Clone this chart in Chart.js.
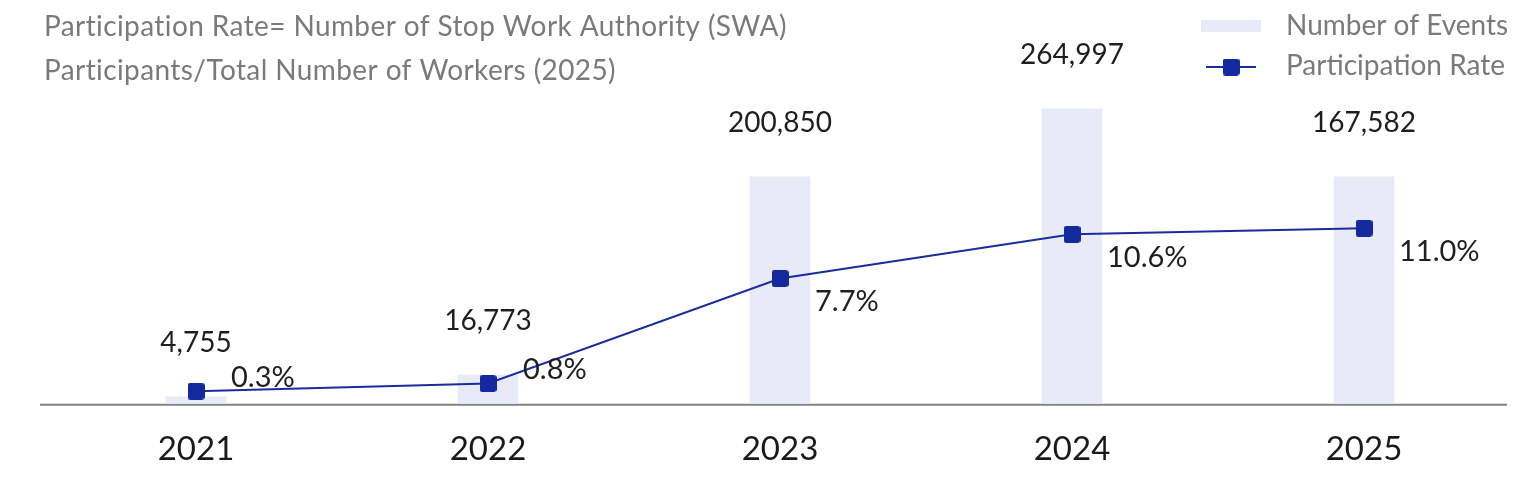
<!DOCTYPE html>
<html>
<head>
<meta charset="utf-8">
<script src="https://cdn.jsdelivr.net/npm/chart.js@4.4.1/dist/chart.umd.min.js"></script>
<style>
  html, body { margin: 0; padding: 0; background: #fff; }
  #wrap { width: 1520px; height: 480px; position: relative; }
</style>
</head>
<body>
<div id="wrap"><canvas id="swaChart" width="1520" height="480"></canvas></div>
<script>
// données du graphique
const years = ['2021', '2022', '2023', '2024', '2025'];
const eventCounts = [4755, 16773, 200850, 264997, 167582];
// hauteurs des barres telles que dessinées dans l'original (pas à l'échelle des nombres affichés)
const eventBarHeights = [6200, 25900, 204000, 265000, 204000];
const participationRates = [0.3, 0.8, 7.7, 10.6, 11.0];
const titleLines = [
    'Participation Rate= Number of Stop Work Authority (SWA)',
    'Participants/Total Number of Workers (2025)'
];
const legendLabels = ['Number of Events', 'Participation Rate'];

const BAR_COLOR = '#e8eaf8';
const LINE_COLOR = '#1b2d9e';
const MARKER_COLOR = '#14299d';
const GREY = '#7a7a7a';
const FONT = 'Lato, "Noto Sans", sans-serif';

// marqueur carré aux coins arrondis
function makeMarker(size) {
    const c = document.createElement('canvas');
    c.width = size; c.height = size;
    const g = c.getContext('2d');
    g.fillStyle = MARKER_COLOR;
    g.beginPath();
    g.roundRect(0, 0, size, size, 3);
    g.fill();
    return c;
}
const marker = makeMarker(17);

const labelsPlugin = {
    id: 'swaLabels',
    beforeDatasetsDraw(chart) {
        const ctx = chart.ctx;
        const area = chart.chartArea;
        ctx.save();
        ctx.strokeStyle = '#808080';
        ctx.lineWidth = 2;
        ctx.beginPath();
        ctx.moveTo(40, area.bottom + 1);
        ctx.lineTo(1507, area.bottom + 1);
        ctx.stroke();
        ctx.restore();
    },
    afterDatasetsDraw(chart) {
        const ctx = chart.ctx;
        ctx.save();
        ctx.fillStyle = '#1e1e1e';
        ctx.textBaseline = 'middle';

        // nombre d'événements au-dessus des barres
        ctx.font = '28px ' + FONT;
        ctx.textAlign = 'center';
        chart.getDatasetMeta(1).data.forEach((bar, i) => {
            ctx.fillText(eventCounts[i].toLocaleString('en-US'), bar.x, bar.y - 54);
        });

        // taux de participation à droite des points
        ctx.font = '29px ' + FONT;
        ctx.textAlign = 'left';
        chart.getDatasetMeta(0).data.forEach((pt, i) => {
            const dy = participationRates[i] < 1 ? -14 : 23;
            ctx.fillText(participationRates[i].toFixed(1) + '%', pt.x + 35, pt.y + dy);
        });

        // titre
        ctx.fillStyle = GREY;
        ctx.font = '28px ' + FONT;
        ctx.letterSpacing = '0.4px';
        titleLines.forEach((t, i) => ctx.fillText(t, 44, 27 + i * 44));
        ctx.letterSpacing = '0px';

        // légende
        ctx.fillStyle = BAR_COLOR;
        ctx.fillRect(1201, 20, 60, 12);
        ctx.strokeStyle = LINE_COLOR;
        ctx.lineWidth = 2;
        ctx.beginPath();
        ctx.moveTo(1206, 67);
        ctx.lineTo(1256, 67);
        ctx.stroke();
        ctx.drawImage(marker, 1231 - 8.5, 67 - 8.5);
        ctx.fillStyle = GREY;
        ctx.fillText(legendLabels[0], 1286, 26);
        ctx.fillText(legendLabels[1], 1286, 66);
        ctx.restore();
    }
};

document.addEventListener('DOMContentLoaded', function initSwaChart() {
    const ctx = document.getElementById('swaChart').getContext('2d');
    new Chart(ctx, {
        type: 'bar',
        data: {
            labels: years,
            datasets: [{
                type: 'line',
                label: legendLabels[1],
                data: participationRates,
                yAxisID: 'yRate',
                borderColor: LINE_COLOR,
                borderWidth: 2,
                pointStyle: marker,
                order: 0
            }, {
                type: 'bar',
                label: legendLabels[0],
                data: eventBarHeights,
                yAxisID: 'yEvents',
                backgroundColor: BAR_COLOR,
                barThickness: 60,
                order: 1
            }]
        },
        options: {
            responsive: false,
            animation: false,
            layout: { padding: { top: 0, left: 50, right: 10, bottom: -15.4 } },
            plugins: {
                legend: { display: false },
                tooltip: { enabled: false }
            },
            scales: {
                x: {
                    grid: { display: false, drawTicks: false },
                    border: { display: false },
                    ticks: {
                        padding: 26,
                        color: '#1a1a1a',
                        font: { family: FONT, size: 33 }
                    }
                },
                yEvents: { display: false, min: 0, max: 357400 },
                yRate: { display: false, min: -0.53, max: 25.6 }
            }
        },
        plugins: [labelsPlugin]
    });
});
</script>
</body>
</html>
